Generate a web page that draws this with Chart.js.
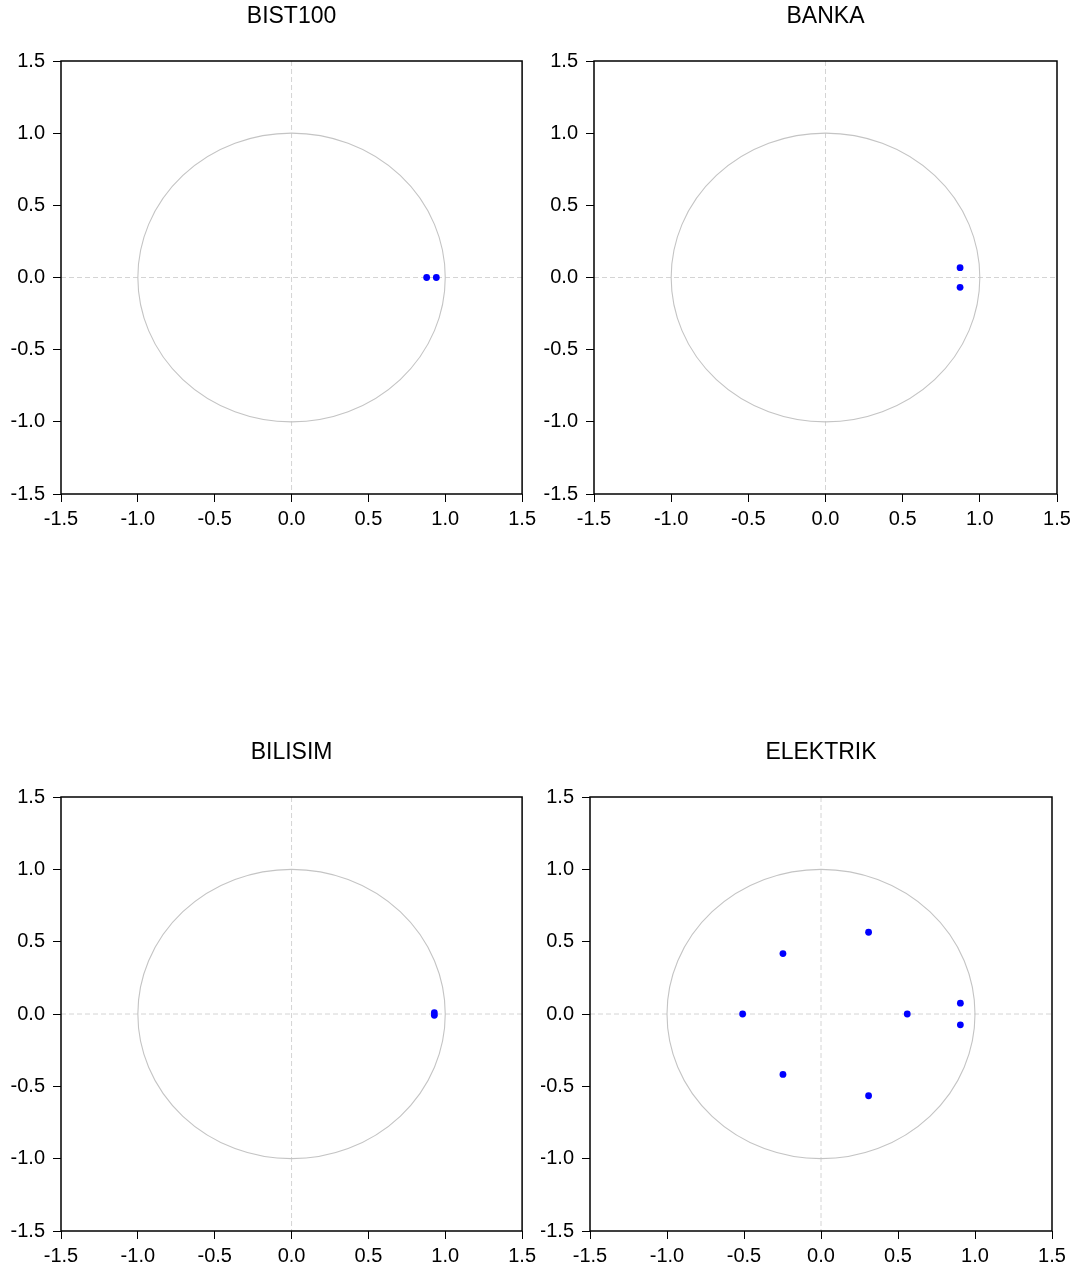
<!DOCTYPE html>
<html>
<head>
<meta charset="utf-8">
<title>Inverse Roots of AR Characteristic Polynomial</title>
<script src="https://cdn.jsdelivr.net/npm/chart.js@4.4.1/dist/chart.umd.min.js"></script>
<style>
	html, body { margin: 0; padding: 0; background: #fff; }
	#page { position: relative; width: 1083px; height: 1270px; }
	#page canvas { position: absolute; }
</style>
</head>
<body>
<div id="page">
	<canvas id="rootsBist" width="541" height="635" style="left:0;top:0"></canvas>
	<canvas id="rootsBanka" width="542" height="635" style="left:541px;top:0"></canvas>
	<canvas id="rootsBilisim" width="541" height="635" style="left:0;top:635px"></canvas>
	<canvas id="rootsElektrik" width="542" height="635" style="left:541px;top:635px"></canvas>
</div>
<script>
// Axis ticks shared by all panels
const tickValues = [-1.5, -1.0, -0.5, 0.0, 0.5, 1.0, 1.5];

// Inverse roots: real and imaginary parts
const bistTitle = "BIST100";
const bistRe = [0.879, 0.942];
const bistIm = [0.0, 0.0];

const bankaTitle = "BANKA";
const bankaRe = [0.872, 0.872];
const bankaIm = [0.068, -0.068];

const bilisimTitle = "BILISIM";
const bilisimRe = [0.929, 0.929];
const bilisimIm = [0.009, -0.009];

const elektrikTitle = "ELEKTRIK";
const elektrikRe = [0.309, 0.309, -0.247, -0.247, -0.509, 0.56, 0.905, 0.905];
const elektrikIm = [0.565, -0.565, 0.418, -0.418, 0.0, 0.0, 0.075, -0.075];

const FONT = "'Liberation Sans', Arial, sans-serif";

// Zero lines, unit circle, box frame and the panel title
const rootFramePlugin = {
	id: "rootFrame",
	beforeDatasetsDraw(chart) {
		const { ctx, chartArea: a } = chart;
		const xs = chart.scales.x;
		const ys = chart.scales.y;
		const x0 = xs.getPixelForValue(0);
		const y0 = ys.getPixelForValue(0);

		ctx.save();
		ctx.strokeStyle = "#d4d4d4";
		ctx.lineWidth = 1;
		ctx.setLineDash([5, 3]);
		ctx.beginPath();
		ctx.moveTo(a.left, y0);
		ctx.lineTo(a.right, y0);
		ctx.moveTo(x0, a.top);
		ctx.lineTo(x0, a.bottom);
		ctx.stroke();

		// unit circle in data space (an ellipse in pixels)
		ctx.setLineDash([]);
		ctx.strokeStyle = "#c4c4c4";
		ctx.lineWidth = 1.1;
		const rx = xs.getPixelForValue(1) - x0;
		const ry = y0 - ys.getPixelForValue(1);
		ctx.beginPath();
		ctx.ellipse(x0, y0, rx, ry, 0, 0, Math.PI * 2);
		ctx.stroke();
		ctx.restore();
	},
	afterDraw(chart, args, opts) {
		const { ctx, chartArea: a } = chart;
		ctx.save();
		ctx.strokeStyle = "#000";
		ctx.lineWidth = 1.5;
		ctx.strokeRect(a.left, a.top, a.right - a.left, a.bottom - a.top);

		ctx.fillStyle = "#000";
		ctx.font = "23px " + FONT;
		ctx.textAlign = "center";
		ctx.textBaseline = "middle";
		ctx.fillText(opts.title, (a.left + a.right) / 2, a.top - 44);
		ctx.restore();
	},
};

function makeAxis(pos, width, height) {
	return {
		type: "linear",
		position: pos,
		min: -1.5,
		max: 1.5,
		afterBuildTicks: function (scale) {
			scale.ticks = tickValues.map((v) => ({ value: v }));
		},
		afterFit: function (scale) {
			if (width) scale.width = width;
			if (height) scale.height = height;
		},
		ticks: {
			color: "#000",
			font: { family: FONT, size: 20 },
			padding: pos === "left" ? 8 : 5,
			autoSkip: false,
			maxRotation: 0,
			callback: function (value) {
				return Number(value).toFixed(1);
			},
		},
		grid: {
			drawOnChartArea: false,
			drawTicks: true,
			tickLength: 8,
			tickColor: "#000",
			tickWidth: 1,
		},
		border: { display: false },
	};
}

function drawRoots(canvasId, title, re, im, yAxisWidth, padTop, padRight, padBottom) {
	const points = re.map((r, i) => ({ x: r, y: im[i] }));
	return new Chart(document.getElementById(canvasId), {
		type: "scatter",
		data: {
			datasets: [
				{
					data: points,
					backgroundColor: "#0000ff",
					borderColor: "#0000ff",
					borderWidth: 0,
					pointRadius: 3.4,
				},
			],
		},
		options: {
			responsive: false,
			animation: false,
			events: [],
			layout: {
				padding: { top: padTop, right: padRight, bottom: padBottom, left: 0 },
			},
			plugins: {
				legend: { display: false },
				tooltip: { enabled: false },
				rootFrame: { title: title },
			},
			scales: {
				x: makeAxis("bottom", null, 39),
				y: makeAxis("left", yAxisWidth, null),
			},
		},
		plugins: [rootFramePlugin],
	});
}

drawRoots("rootsBist", bistTitle, bistRe, bistIm, 61, 61, 18, 102);
drawRoots("rootsBanka", bankaTitle, bankaRe, bankaIm, 53, 61, 26, 102);
drawRoots("rootsBilisim", bilisimTitle, bilisimRe, bilisimIm, 61, 162, 18, 0);
drawRoots("rootsElektrik", elektrikTitle, elektrikRe, elektrikIm, 49, 162, 31, 0);
</script>
</body>
</html>
